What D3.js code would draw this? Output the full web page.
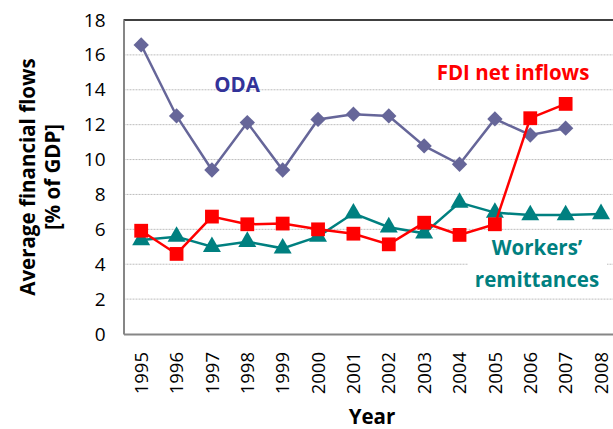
<!DOCTYPE html>
<html><head><meta charset="utf-8">
<script src="https://cdn.jsdelivr.net/npm/d3@7"></script>
<style>
body{margin:0;background:#fff;}
svg{display:block;}
text{font-family:"Open Sans",Lato,sans-serif;}
</style></head>
<body><svg id="c" width="613" height="429"></svg>
<script>
const years = ["1995","1996","1997","1998","1999","2000","2001","2002","2003","2004","2005","2006","2007","2008"];
const oda = [16.57,12.5,9.4,12.12,9.4,12.3,12.6,12.5,10.78,9.73,12.33,11.41,11.8,null];
const fdi = [5.92,4.59,6.73,6.29,6.33,6.0,5.75,5.14,6.38,5.68,6.29,12.37,13.19,null];
const workers = [5.39,5.58,5.0,5.29,4.91,5.58,6.92,6.12,5.77,7.53,6.96,6.82,6.82,6.88];
const yTicks = [0,2,4,6,8,10,12,14,16,18];

const svg = d3.select("#c");
const L = 123.5, T = 20, B = 334, R = 618.7;
const x = d3.scaleBand().domain(years).range([L, R]);
const y = d3.scaleLinear().domain([0,18]).range([B, T]);
const cx = d => x(d) + x.bandwidth()/2;

// gridlines
svg.append("g").selectAll("line").data(yTicks.filter(t=>t>0 && t<18)).join("line")
  .attr("x1", L).attr("x2", 613).attr("y1", d=>y(d)).attr("y2", d=>y(d))
  .attr("stroke","#bdbdbd").attr("stroke-width",1).attr("stroke-dasharray","2,1");

// top border
svg.append("line").attr("x1",L).attr("x2",613).attr("y1",y(18)).attr("y2",y(18))
  .attr("stroke","#000").attr("stroke-width",1.5);

// axes
const yAxis = d3.axisLeft(y).tickValues(yTicks).tickSize(0).tickPadding(18);
const gy = svg.append("g").attr("transform",`translate(${L},0)`).call(yAxis);
gy.select(".domain").attr("stroke","#868686").attr("stroke-width",2);
gy.selectAll("text").attr("font-size",19).attr("fill","#000");

const xAxis = d3.axisBottom(x).tickSize(0).tickPadding(0);
const gx = svg.append("g").attr("transform",`translate(0,${B})`).call(xAxis);
gx.select(".domain").attr("stroke","#868686").attr("stroke-width",2);
gx.selectAll("text").attr("font-size",18.5).attr("fill","#000")
  .attr("transform","rotate(-90)").attr("text-anchor","end")
  .attr("x",-18).attr("y",0).attr("dy","0.36em");

// white box behind workers label
svg.append("rect").attr("x",468).attr("y",236).attr("width",139).attr("height",56).attr("fill","#fff");

// lines
function series(data, color, shape, size){
  const pts = years.map((yr,i)=>({yr, v:data[i]})).filter(d=>d.v!=null);
  svg.append("path").datum(pts)
    .attr("d", d3.line().x(d=>cx(d.yr)).y(d=>y(d.v)))
    .attr("fill","none").attr("stroke",color).attr("stroke-width",2.5);
  svg.append("g").selectAll("path").data(pts).join("path")
    .attr("transform", d=>`translate(${cx(d.yr)},${y(d.v)})`)
    .attr("d", d3.symbol().type(shape).size(size))
    .attr("fill",color);
}
series(oda, "#666699", d3.symbolDiamond2, 150);
series(workers, "#008080", d3.symbolTriangle, 140);
series(fdi, "#ff0000", d3.symbolSquare, 190);

// labels
svg.append("text").attr("x",237).attr("y",92).attr("text-anchor","middle")
  .attr("font-size",20.5).attr("font-weight","bold").attr("fill","#333399").text("ODA");
svg.append("text").attr("x",513).attr("y",80).attr("text-anchor","middle")
  .attr("font-size",20.5).attr("font-weight","bold").attr("fill","#ff0000").text("FDI net inflows");
svg.append("text").attr("x",537).attr("y",255).attr("text-anchor","middle")
  .attr("font-size",20.5).attr("font-weight","bold").attr("fill","#008080").text("Workers’");
svg.append("text").attr("x",537).attr("y",287).attr("text-anchor","middle")
  .attr("font-size",20.5).attr("font-weight","bold").attr("fill","#008080").text("remittances");

// axis titles
svg.append("text").attr("transform","translate(35,177) rotate(-90)").attr("text-anchor","middle")
  .attr("font-size",20.5).attr("font-weight","bold").text("Average financial flows");
svg.append("text").attr("transform","translate(60,177) rotate(-90)").attr("text-anchor","middle")
  .attr("font-size",20.5).attr("font-weight","bold").text("[% of GDP]");
svg.append("text").attr("x",372).attr("y",424).attr("text-anchor","middle")
  .attr("font-size",20.5).attr("font-weight","bold").text("Year");
</script></body></html>
